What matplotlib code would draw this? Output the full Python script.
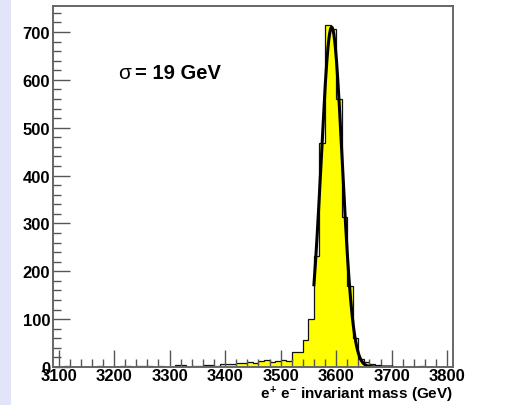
#!/usr/bin/env python3
"""
e+ e- 不變質量分佈 (ROOT 風格直方圖 + 高斯擬合)
"""

import numpy as np
import matplotlib
matplotlib.use('Agg')
import matplotlib.pyplot as plt
from matplotlib.patches import Rectangle
from matplotlib.ticker import MultipleLocator

# 字型設定 (Helvetica 風格的粗體)
plt.rcParams['font.family'] = ['Liberation Sans', 'DejaVu Sans']
plt.rcParams['font.weight'] = 'bold'
plt.rcParams['mathtext.fontset'] = 'custom'
plt.rcParams['mathtext.rm'] = 'Liberation Sans:bold'
plt.rcParams['mathtext.it'] = 'Liberation Sans:bold'
plt.rcParams['mathtext.bf'] = 'Liberation Sans:bold'

# 直方圖資料: 3090-3810 GeV, 每格 10 GeV
bin_edges = np.arange(3090, 3811, 10)
counts = [
    0, 0, 2, 1, 0, 0, 0, 0, 2, 0,          # 3090-3190
    1, 0, 2, 2, 1, 3, 3, 3, 0, 3,          # 3190-3290
    0, 0, 4, 5, 0, 2, 2, 4, 4, 3,          # 3290-3390
    6, 6, 7, 9, 8, 11, 9, 12, 15, 10,      # 3390-3490
    12, 14, 13, 31, 31, 57, 100, 232, 469, 715,   # 3490-3590
    706, 560, 313, 170, 60, 17, 10, 6, 4, 3,      # 3590-3690
    3, 0, 0, 0, 0, 0, 3, 0, 0, 0,          # 3690-3790
    0, 0,                                  # 3790-3810
]

# 高斯擬合參數
fit_mean = 3592.0
fit_sigma = 19.0
fit_amp = 710.0
fit_range = (3560, 3700)

fig = plt.figure(figsize=(5.10, 4.06), dpi=100)

# 左側淡紫色背景條
fig.patches.append(Rectangle((0, 0), 11 / 510, 1, transform=fig.transFigure,
                             facecolor='#e4e4f8', edgecolor='none', zorder=0))

ax = fig.add_axes([53 / 510, 1 - 368 / 406, (452.7 - 53) / 510, (368 - 7.3) / 406])

centers = (bin_edges[:-1] + bin_edges[1:]) / 2
ax.hist(centers, bins=bin_edges, weights=counts, histtype='stepfilled',
        facecolor='#ffff00', edgecolor='#111111', linewidth=0.9)

xf = np.linspace(fit_range[0], fit_range[1], 200)
yf = fit_amp * np.exp(-(xf - fit_mean) ** 2 / (2 * fit_sigma ** 2))
ax.plot(xf, yf, color='black', linewidth=2.2)

ax.set_xlim(3090, 3810)
ax.set_ylim(0, 753.7)

# 刻度 (ROOT 風格: 朝內, 只在左/下)
ax.xaxis.set_major_locator(MultipleLocator(100))
ax.xaxis.set_minor_locator(MultipleLocator(20))
ax.yaxis.set_major_locator(MultipleLocator(100))
ax.yaxis.set_minor_locator(MultipleLocator(20))
ax.tick_params(which='both', direction='in', top=False, right=False,
               color='#555555', labelsize=12)
ax.tick_params(which='major', length=12, width=1)
ax.tick_params(which='minor', length=6, width=1)
ax.tick_params(axis='x', pad=1)
ax.tick_params(axis='y', pad=2)

for spine in ax.spines.values():
    spine.set_color('#666666')
    spine.set_linewidth(1.4)

ax.set_xlabel(r'$e^{+}$ $e^{-}$ invariant mass (GeV)', fontsize=11,
              fontweight='bold', loc='right', labelpad=0)

# σ 標註
ax.text(3207, 616, 'σ', fontsize=15, fontweight='normal', va='center', ha='left')
ax.text(3237, 616, '= 19 GeV', fontsize=14.5, fontweight='bold', va='center', ha='left')

fig.savefig('out.png', dpi=100)
plt.close(fig)
